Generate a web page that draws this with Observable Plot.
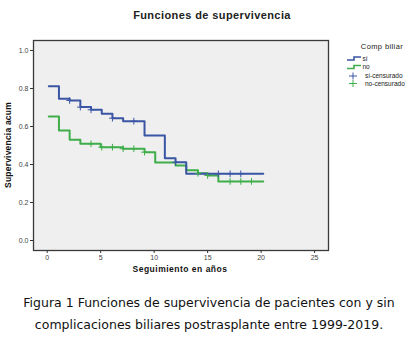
<!DOCTYPE html>
<html><head><meta charset="utf-8">
<script src="https://cdn.jsdelivr.net/npm/d3@7"></script>
<script src="https://cdn.jsdelivr.net/npm/@observablehq/plot@0.6"></script>
<style>
body{margin:0;background:#fff;}
#cap{width:418px;text-align:center;font-family:"DejaVu Sans",sans-serif;font-size:12.5px;line-height:22px;color:#111;margin-top:2px;}
</style></head><body>
<div id="chart"></div>
<div id="cap">Figura 1 Funciones de supervivencia de pacientes con y sin<br>complicaciones biliares postrasplante entre 1999-2019.</div>
<script>
const groups = ["sí", "no"];
const colors = ["#3b55a5", "#3fae4a"];
// Kaplan-Meier step points (time in years, cumulative survival)
const siTimes  = [0.15, 1.1, 2.1, 3.1, 4.1, 5.1, 6.1, 7.1, 9.1, 11.0, 12.0, 13.0, 20.2];
const siSurv   = [0.812, 0.746, 0.737, 0.702, 0.688, 0.667, 0.644, 0.628, 0.553, 0.433, 0.412, 0.351, 0.351];
const noTimes  = [0.15, 1.1, 2.1, 3.1, 5.0, 7.1, 9.1, 10.1, 12.0, 13.0, 14.1, 15.0, 16.0, 20.2];
const noSurv   = [0.653, 0.579, 0.530, 0.509, 0.491, 0.483, 0.465, 0.411, 0.395, 0.370, 0.354, 0.342, 0.311, 0.311];
// censored observations
const siCensT  = [2.1, 3.1, 4.1, 6.1, 8.1, 12.0, 16.0, 17.1, 18.1];
const siCensS  = [0.737, 0.702, 0.688, 0.644, 0.628, 0.412, 0.351, 0.351, 0.351];
const noCensT  = [4.1, 5.1, 6.1, 7.1, 8.1, 9.1, 14.1, 15.0, 17.1, 18.1, 19.1];
const noCensS  = [0.509, 0.491, 0.491, 0.483, 0.483, 0.465, 0.354, 0.342, 0.311, 0.311, 0.311];
const xTicks = [0, 5, 10, 15, 20, 25];
const yTicks = [0.0, 0.2, 0.4, 0.6, 0.8, 1.0];
const legendLabels = ["sí", "no", "sí-censurado", "no-censurado"];

const steps = [
  ...siTimes.map((t, i) => ({t, s: siSurv[i], g: "sí"})),
  ...noTimes.map((t, i) => ({t, s: noSurv[i], g: "no"}))
];
const cens = [
  ...siCensT.map((t, i) => ({t, s: siCensS[i], g: "sí"})),
  ...noCensT.map((t, i) => ({t, s: noCensS[i], g: "no"}))
];

const plot = Plot.plot({
  width: 418, height: 290,
  marginLeft: 33, marginRight: 90, marginTop: 40, marginBottom: 40,
  x: {domain: [-1.28, 26.3], label: null},
  y: {domain: [-0.0526, 1.0526], label: null},
  color: {domain: groups, range: colors},
  style: {fontFamily: "Liberation Sans, Arial, sans-serif", fontSize: "7px", background: "#fff", color: "#333"},
  marks: [
    Plot.frame({fill: "#efefef", stroke: null}),
    Plot.line(steps.filter(d => d.g === "no"), {x: "t", y: "s", stroke: colors[1], strokeWidth: 2, curve: "step-after"}),
    Plot.line(steps.filter(d => d.g === "sí"), {x: "t", y: "s", stroke: colors[0], strokeWidth: 2, curve: "step-after"}),
    Plot.dot(cens, {x: "t", y: "s", stroke: "g", symbol: "plus", r: 2.3, strokeWidth: 1}),
    Plot.frame({stroke: "#3a3a3a", strokeWidth: 1.3}),
    Plot.axisX({ticks: xTicks, tickSize: 3, tickPadding: 2, stroke: "#333", fill: "#444", label: null}),
    Plot.axisY({ticks: yTicks, tickSize: 3, tickPadding: 2, tickFormat: ".1f", stroke: "#333", fill: "#444", label: null})
  ]
});
document.getElementById("chart").appendChild(plot);

const svg = d3.select(plot);
const ff = "Liberation Sans, Arial, sans-serif";
svg.append("text").attr("x", 212).attr("y", 19).attr("text-anchor", "middle")
  .attr("font-family", ff).attr("font-size", 11).attr("font-weight", "bold")
  .attr("letter-spacing", 0.4).attr("fill", "#222").text("Funciones de supervivencia");
svg.append("text").attr("x", 180).attr("y", 272).attr("text-anchor", "middle")
  .attr("font-family", ff).attr("font-size", 8.5).attr("font-weight", "bold")
  .attr("letter-spacing", 0.5).attr("fill", "#111").text("Seguimiento en años");
svg.append("text").attr("transform", "translate(11,145) rotate(-90)").attr("text-anchor", "middle")
  .attr("font-family", ff).attr("font-size", 8.5).attr("font-weight", "bold")
  .attr("letter-spacing", 0.2).attr("fill", "#111").text("Supervivencia acum");

// legend
const lg = svg.append("g").attr("font-family", ff).attr("font-size", 6.5).attr("fill", "#222").attr("text-anchor", "start");
lg.append("text").attr("x", 382).attr("y", 49).attr("text-anchor", "middle").attr("font-size", 7.5)
  .attr("letter-spacing", 0.4).text("Comp biliar");
[0, 1].forEach(i => {
  const y = 59 + i * 8.5;
  lg.append("path").attr("d", `M347,${y + 1}H354V${y - 2}H361`).attr("fill", "none")
    .attr("stroke", colors[i]).attr("stroke-width", 1.6);
  lg.append("text").attr("x", 362.5).attr("y", y + 1.5).attr("text-anchor", "start").text(legendLabels[i]);
});
[0, 1].forEach(i => {
  const y = 76 + i * 7.5;
  lg.append("path").attr("d", `M349,${y}H357M353,${y - 3.5}V${y + 3.5}`).attr("stroke", colors[i]).attr("stroke-width", 1);
  lg.append("text").attr("x", 365).attr("y", y + 2.2).attr("text-anchor", "start").text(legendLabels[i + 2]);
});
</script>
</body></html>
